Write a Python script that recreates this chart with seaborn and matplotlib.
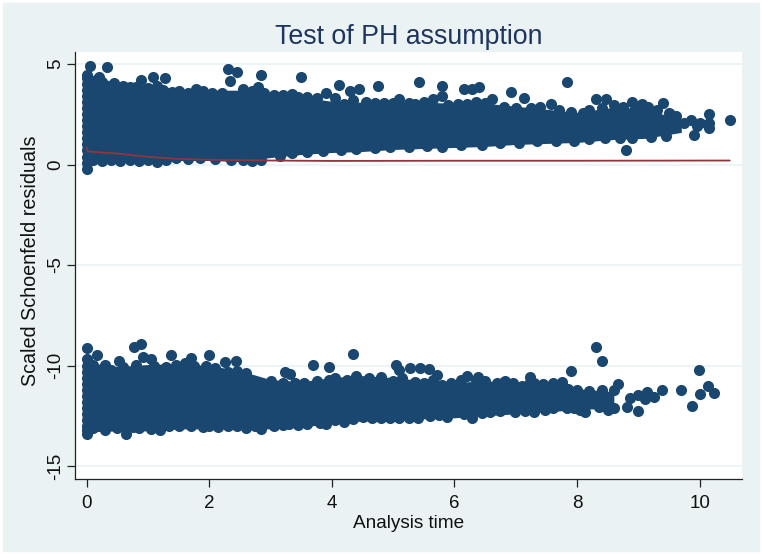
import matplotlib
matplotlib.use("Agg")
import matplotlib.pyplot as plt
import seaborn as sns
import pandas as pd
from matplotlib.patches import Rectangle

NAVY = "#1A476F"
MAROON = "#90353B"
BACK = "#EAF2F3"

# dense core of the two point clouds
upper_core_x = [0, 0.5, 1, 1.5, 2, 2.5, 3, 3.5, 4, 4.5, 5, 5.5, 6, 6.5, 7, 7.5, 8, 8.6, 9.1, 9.7]
upper_top = [4.5, 4.05, 3.95, 3.75, 3.7, 3.7, 3.5, 3.35, 3.15, 3.1, 3.1, 3.1, 3.05, 3.05, 2.9, 2.75, 2.6, 2.85, 2.8, 2.2]
upper_bot = [0.05, 0.1, 0.1, 0.2, 0.2, 0.15, 0.35, 0.5, 0.6, 0.65, 0.75, 0.8, 0.85, 0.9, 1.0, 1.05, 1.1, 1.25, 1.3, 1.6]
lower_core_x = [0, 0.5, 1, 1.5, 2, 2.5, 3, 3.5, 4, 4.5, 5, 5.5, 6, 6.5, 7, 7.5, 8, 8.6]
lower_top = [-9.85, -10.05, -9.95, -9.9, -10.0, -10.25, -10.7, -10.8, -10.6, -10.5, -10.6, -10.75, -10.85, -10.75, -10.9, -10.9, -11.15, -11.3]
lower_bot = [-13.3, -13.25, -13.25, -13.15, -13.15, -13.15, -13.15, -13.05, -12.9, -12.75, -12.75, -12.65, -12.6, -12.5, -12.4, -12.3, -12.2, -12.1]

# stray points above and below the upper cloud
upper_x = [0.05, 0.33, 0, 0.2, 0.88, 1.08, 1.28, 2.3, 2.46, 2.34, 2.84, 3.49, 4.11, 2.8, 4.29, 4.45, 4.76,
           5.42, 5.8, 5.8, 6.15, 6.28, 6.4, 6.92, 7.84, 7.14, 7.57, 8.31, 8.47, 8.89, 9.06, 9.4, 10.15, 10.15,
           10.49, 8.8, 9.9, 9.75, 9.95, 9.52, 10.15, 0]
upper_y = [4.9, 4.83, 4.45, 4.38, 4.2, 4.37, 4.29, 4.75, 4.6, 4.17, 4.47, 4.34, 3.97, 3.88, 3.68, 3.76, 3.9,
           4.1, 3.9, 3.4, 3.78, 3.75, 3.87, 3.63, 4.12, 3.3, 3.0, 3.25, 3.25, 3.1, 3.03, 3.07, 2.5, 1.8,
           2.2, 0.7, 1.47, 2.05, 1.93, 2.5, 2.05, -0.2]

# residuals at the earliest failures, the left edge of both clouds
first_y = [0.1, 0.4, 0.7, 1.0, 1.3, 1.6, 1.9, 2.2, 2.5, 2.8, 3.1, 3.4, 3.7, 4.0, 4.3,
           -10.0, -10.3, -10.6, -10.9, -11.2, -11.5, -11.8, -12.1, -12.4, -12.7, -13.0, -13.2]
first_x = [0] * len(first_y)

# upper cloud, top and bottom edge
upper_top_x = [0.15, 0.25, 0.45, 0.6, 0.7, 0.8, 1.0, 1.15, 1.25, 1.4, 1.5, 1.65, 1.78, 1.9, 2.05, 2.2, 2.55, 2.7, 2.9,
               3.05, 3.2, 3.35, 3.45, 3.6, 3.75, 3.9, 4.05, 4.2, 4.35, 4.55, 4.7, 4.85, 5.0, 5.1, 5.25, 5.35, 5.5, 5.65, 5.9,
               6.05, 6.2, 6.35, 6.5, 6.62, 6.8, 7.0, 7.25, 7.4, 7.7, 7.9, 8.1, 8.2, 8.4, 8.6, 8.75, 8.95, 9.15, 9.3, 9.5, 9.62, 9.85, 10.0]
upper_top_y = [4.2, 4.1, 4.05, 3.9, 3.85, 3.85, 3.8, 3.9, 3.7, 3.6, 3.65, 3.55, 3.75, 3.65, 3.55, 3.55, 3.75, 3.65, 3.55,
               3.45, 3.45, 3.5, 3.35, 3.35, 3.3, 3.55, 3.3, 3.0, 3.2, 3.1, 3.05, 3.05, 3.05, 3.25, 3.05, 3.0, 3.1, 3.25, 2.95,
               3.0, 3.0, 3.1, 3.05, 3.25, 2.85, 2.8, 2.8, 2.85, 2.7, 2.6, 2.55, 2.7, 2.8, 2.95, 2.85, 2.75, 2.85, 2.7, 2.55, 2.4, 2.2, 2.05]
upper_bot_x = [0.1, 0.25, 0.4, 0.55, 0.7, 0.85, 1.0, 1.15, 1.3, 1.45, 1.65, 1.85, 2.1, 2.35, 2.55, 2.7, 2.85, 3.15, 3.35, 3.6, 3.85,
               4.15, 4.4, 4.7, 4.95, 5.25, 5.55, 5.8, 6.1, 6.45, 6.75, 7.05, 7.35, 7.65, 7.95, 8.2, 8.45, 8.7, 8.9, 9.2, 9.45]
upper_bot_y = [0.25, 0.2, 0.25, 0.2, 0.25, 0.2, 0.25, 0.15, 0.25, 0.35, 0.3, 0.35, 0.3, 0.25, 0.25, 0.2, 0.25, 0.45, 0.55, 0.6, 0.65,
               0.7, 0.75, 0.8, 0.85, 0.85, 0.9, 0.85, 0.95, 0.95, 1.05, 1.05, 1.15, 1.15, 1.15, 1.25, 1.3, 1.3, 1.3, 1.35, 1.4]

# stray points around the lower cloud
lower_x = [0, 0.78, 0.88, 0, 0.17, 0.53, 0.92, 1.05, 1.38, 1.7, 2.0, 2.25, 2.44, 3.69, 3.96, 4.35, 3.24, 3.32,
           5.05, 5.09, 5.28, 5.43, 5.59, 5.72, 6.21, 6.38, 6.83, 7.24, 7.24, 7.75, 7.7, 7.9, 8.31, 8.41, 8.67, 9.39, 9.7,
           9.99, 10.13, 10.24, 10.0, 9.87, 8.99, 8.82, 8.5, 8.13, 8.87, 9.14, 9.26, 9.0, 9.11, 0, 0.65]
lower_y = [-9.11, -9.06, -8.95, -9.69, -9.48, -9.79, -9.56, -9.69, -9.48, -9.64, -9.48, -9.83, -9.76, -9.99, -10.07, -9.43, -10.3, -10.4,
           -9.98, -10.2, -10.1, -10.1, -10.15, -10.45, -10.5, -10.55, -10.75, -10.55, -10.8, -10.8, -10.95, -10.25, -9.09, -9.78, -10.9, -11.2, -11.2,
           -10.24, -11.0, -11.37, -11.4, -12.0, -12.25, -12.08, -12.2, -12.3, -11.6, -11.3, -11.55, -11.45, -11.65, -13.42, -13.42]

# lower cloud, top and bottom edge
lower_top_x = [0.1, 0.3, 0.4, 0.6, 0.8, 1.1, 1.3, 1.45, 1.6, 1.75, 1.95, 2.1, 2.3, 2.45, 2.6, 2.8, 3.0, 3.2, 3.4, 3.55, 3.75,
               3.95, 4.05, 4.25, 4.4, 4.6, 4.8, 5.0, 5.15, 5.35, 5.5, 5.65, 5.8, 5.95, 6.1, 6.35, 6.5, 6.7, 6.8, 6.95, 7.1, 7.3, 7.45, 7.6, 7.85, 8.0, 8.2, 8.4, 8.6]
lower_top_y = [-9.95, -9.95, -10.2, -10.05, -9.95, -10.0, -10.05, -9.95, -9.85, -10.0, -10.0, -10.1, -10.3, -10.25, -10.35, -10.85, -10.75, -10.85, -10.85, -10.85, -10.75,
               -10.7, -10.6, -10.7, -10.5, -10.6, -10.55, -10.75, -10.6, -10.8, -10.85, -10.7, -10.95, -10.85, -10.7, -10.7, -10.75, -10.85, -10.8, -10.85, -11.0, -10.85, -10.9, -10.85, -11.15, -11.2, -11.25, -11.2, -11.2]
lower_bot_x = [0.1, 0.3, 0.5, 0.75, 0.85, 1.05, 1.2, 1.35, 1.5, 1.7, 1.9, 2.0, 2.15, 2.3, 2.45, 2.6, 2.75, 2.85, 3.05, 3.2, 3.3, 3.45, 3.6, 3.8, 3.9,
               4.05, 4.2, 4.35, 4.5, 4.65, 4.8, 4.95, 5.1, 5.25, 5.41, 5.6, 5.75, 5.87, 6.15, 6.29, 6.45, 6.58, 6.75, 6.99, 7.15, 7.29, 7.48, 7.6, 7.83, 7.95, 8.05, 8.35, 8.6]
lower_bot_y = [-13.1, -13.2, -13.1, -13.05, -13.1, -13.15, -13.2, -13.0, -13.0, -13.0, -13.05, -13.0, -13.05, -13.0, -13.0, -13.1, -13.0, -13.15, -13.0, -12.95, -12.9, -12.98, -12.9, -12.85, -12.9,
               -12.7, -12.8, -12.65, -12.55, -12.6, -12.6, -12.6, -12.6, -12.6, -12.63, -12.5, -12.45, -12.55, -12.4, -12.63, -12.35, -12.3, -12.25, -12.3, -12.25, -12.3, -12.2, -12.1, -12.1, -12.1, -12.2, -12.05, -12.1]

# running-line smooth
smooth_x = [0, 0.02, 0.5, 1, 1.5, 2, 3, 4, 6, 8, 10.49]
smooth_y = [0.85, 0.65, 0.55, 0.38, 0.28, 0.24, 0.2, 0.18, 0.19, 0.19, 0.2]

x_ticks = [0, 2, 4, 6, 8, 10]
y_ticks = [-15, -10, -5, 0, 5]

sns.set_theme(style="white")
plt.rcParams["font.family"] = ["Liberation Sans", "DejaVu Sans"]

fig = plt.figure(figsize=(7.62, 5.54), dpi=100, facecolor="white")
W, H = 762, 554
fig.add_artist(Rectangle((3 / W, 3 / H), 756 / W, 548 / H, transform=fig.transFigure, color=BACK, zorder=-5))
ax = fig.add_axes([75 / W, (H - 478.7) / H, 667 / W, 426.7 / H], facecolor="white")

ax.fill_between(upper_core_x, upper_bot, upper_top, color=NAVY, lw=0, zorder=2)
ax.fill_between(lower_core_x, lower_bot, lower_top, color=NAVY, lw=0, zorder=2)

all_x = first_x + upper_x + upper_top_x + upper_bot_x + lower_x + lower_top_x + lower_bot_x
all_y = first_y + upper_y + upper_top_y + upper_bot_y + lower_y + lower_top_y + lower_bot_y
points = pd.DataFrame({"t": all_x, "res": all_y})
sns.scatterplot(data=points, x="t", y="res", color=NAVY, s=64, linewidth=0, ax=ax, zorder=3)
smooth = pd.DataFrame({"t": smooth_x, "res": smooth_y})
sns.lineplot(data=smooth, x="t", y="res", color=MAROON, lw=1.3, ax=ax, zorder=4, estimator=None, sort=False)

ax.set_xlim(-0.19, 10.69)
ax.set_ylim(-15.63, 5.6)
ax.set_xticks(x_ticks)
ax.set_yticks(y_ticks)
ax.set_yticklabels([str(v) for v in y_ticks], rotation=90, va="center")
ax.grid(axis="y", color=BACK, lw=1.2, zorder=0)
ax.set_axisbelow(True)
ax.tick_params(axis="both", length=6, width=0.9, color="#222222", labelcolor="#111111", labelsize=13.5, bottom=True, left=True)
ax.tick_params(axis="x", pad=6)
ax.tick_params(axis="y", pad=2)
for side in ["top", "right"]:
    ax.spines[side].set_visible(False)
for side in ["left", "bottom"]:
    ax.spines[side].set_color("#222222")
    ax.spines[side].set_linewidth(0.9)

ax.set_xlabel("Analysis time", fontsize=13.7, color="#111111", labelpad=2)
ax.set_ylabel("Scaled Schoenfeld residuals", fontsize=14.2, color="#111111", labelpad=0)
ax.yaxis.set_label_coords(-0.052, 0.51)
ax.set_title("Test of PH assumption", fontsize=19.3, color="#1E3560", pad=6)

fig.savefig("out.png", dpi=100, facecolor=fig.get_facecolor())
